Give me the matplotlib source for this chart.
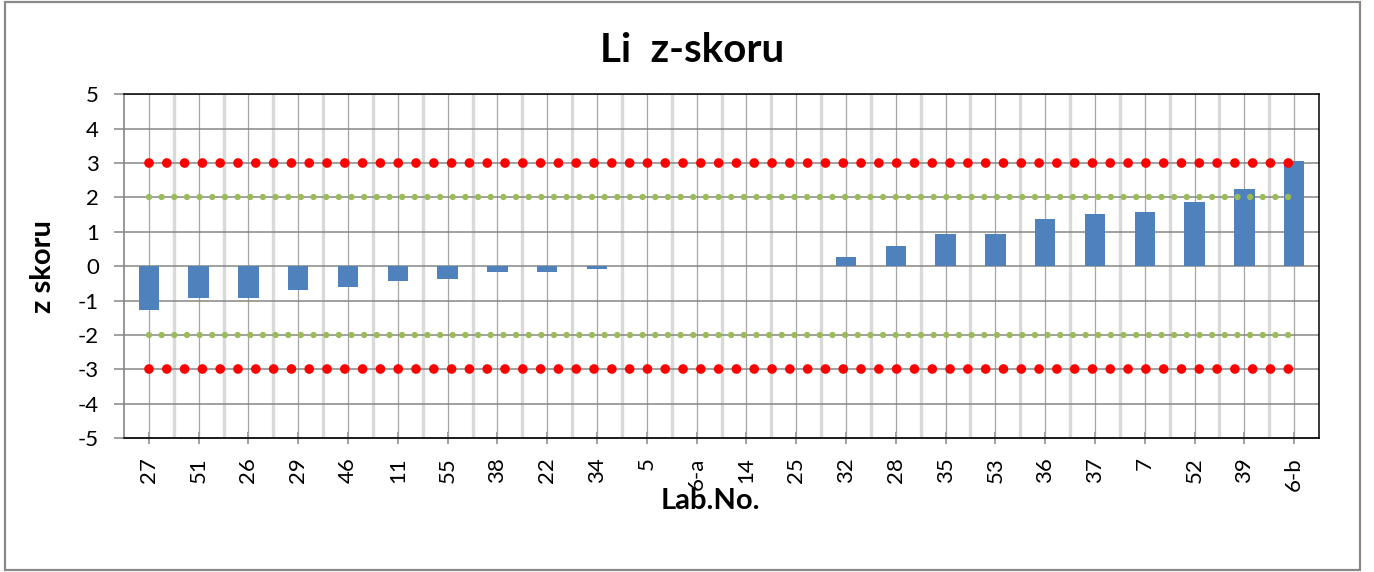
import numpy as np
import matplotlib
matplotlib.use("Agg")
import matplotlib.pyplot as plt
from matplotlib.patches import Rectangle

plt.rcParams['font.family'] = ['Lato', 'DejaVu Sans']

# data
labs = ['27', '51', '26', '29', '46', '11', '55', '38', '22', '34', '5', '6-a',
        '14', '25', '32', '28', '35', '53', '36', '37', '7', '52', '39', '6-b']
z = [-1.27, -0.94, -0.94, -0.68, -0.61, -0.42, -0.38, -0.17, -0.17, -0.09,
     0, 0, 0, 0, 0.26, 0.60, 0.93, 0.93, 1.38, 1.52, 1.57, 1.87, 2.24, 3.05]
action_limits = [3, -3]
warning_limits = [2, -2]
yticks = list(range(-5, 6))

W, H = 1374, 572
fig = plt.figure(figsize=(W / 100, H / 100), dpi=100)
ax = fig.add_axes([124 / W, 1 - 438 / H, (1319 - 124) / W, (438 - 94.3) / H])

x = np.arange(len(labs))

# bars
ax.bar(x, z, width=0.41, color='#4f81bd', linewidth=0, zorder=3)

# limit lines drawn as round dots
for lim in action_limits:
    ax.plot(x, [lim] * len(x), color='#ff0000', lw=7.0,
            linestyle=(0, (0.001, 1.83)), dash_capstyle='round', zorder=5)
for lim in warning_limits:
    ax.plot(x, [lim] * len(x), color='#9bbb59', lw=4.6,
            linestyle=(0, (0.001, 1.98)), dash_capstyle='round', zorder=4)

ax.set_xlim(-0.5, len(labs) - 0.5)
ax.set_ylim(-5, 5)
ax.set_yticks(yticks)
ax.set_yticklabels([str(v) for v in yticks])

# category ticks and gridlines
ax.set_xticks(x)
ax.set_xticklabels(labs, rotation=90, va='top')
ax.set_xticks(x[:-1] + 0.5, minor=True)
ax.tick_params(axis='x', which='both', length=0, pad=14, labelsize=16, colors='black')
ax.tick_params(axis='y', length=7, width=1.1, color='#868686', pad=11, labelsize=16)

ax.grid(axis='y', color='#868686', lw=1.1, zorder=1)
ax.grid(axis='x', which='major', color='#a6a6a6', lw=0.9, zorder=1)
ax.grid(axis='x', which='minor', color='#d9d9d9', lw=2.4, zorder=0.5)
ax.set_axisbelow(True)

# category axis crossing at zero
sec = ax.secondary_xaxis(0)
sec.set_xticks(x)
sec.tick_params(direction='inout', length=8, width=1.1, color='#868686', labelbottom=False)
sec.spines['bottom'].set_color('#868686')
sec.spines['bottom'].set_linewidth(1.4)

for side in ['top', 'right', 'bottom']:
    ax.spines[side].set_color('black')
    ax.spines[side].set_linewidth(1.1)
ax.spines['left'].set_color('#868686')
ax.spines['left'].set_linewidth(1.2)

ax.set_xlabel('Lab.No.', fontsize=21, fontweight='bold')
ax.xaxis.set_label_coords(0.491, -0.2066)
ax.xaxis.label.set_verticalalignment('baseline')
ax.set_ylabel('z skoru', fontsize=21, fontweight='bold')
ax.yaxis.set_label_coords(-0.068, 0.5)
ax.yaxis.label.set_verticalalignment('center')

fig.text(692 / W, 1 - 62 / H, 'Li  z-skoru', ha='center', va='baseline',
         fontsize=29, fontweight='bold')

# outer chart frame
fig.patches.append(Rectangle((5 / W, 2 / H), (1360 - 5) / W, (570 - 2) / H,
                             transform=fig.transFigure, fill=False,
                             edgecolor='#898989', lw=1.6))

fig.savefig('out.png', dpi=100)
